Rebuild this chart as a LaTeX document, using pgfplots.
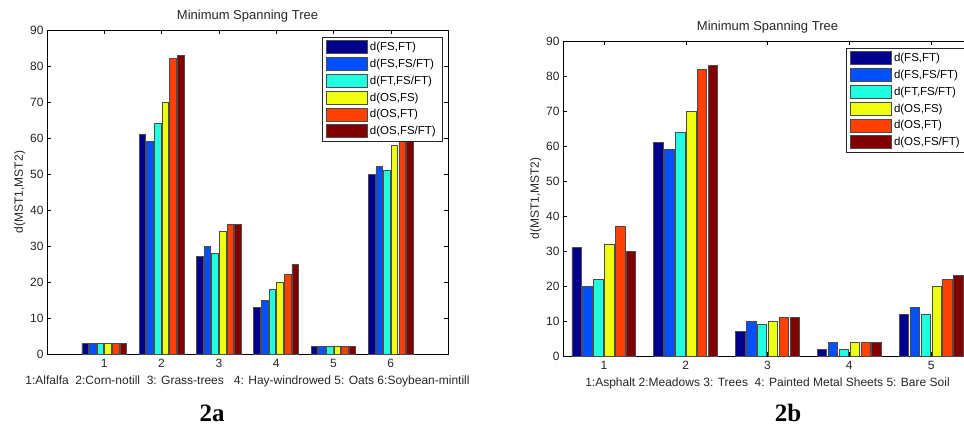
\documentclass[border=0pt]{standalone}
\usepackage{fontspec}
\setmainfont{Liberation Sans}
\newfontfamily\capfont{Liberation Serif}
\usepackage{pgfplots}
\pgfplotsset{compat=1.18}

\definecolor{c1}{RGB}{0,0,140}
\definecolor{c2}{RGB}{0,80,255}
\definecolor{c3}{RGB}{32,255,224}
\definecolor{c4}{RGB}{238,255,16}
\definecolor{c5}{RGB}{255,64,0}
\definecolor{c6}{RGB}{128,0,0}

\pgfplotsset{
  mst/.style={
    scale only axis,
    anchor=south west,
    ybar,
    bar width=0.115,
    ymin=0, ymax=90,
    ytick={0,10,...,90},
    xtick={1,...,6},
    tick align=inside,
    major tick length=4pt,
    tick style={black, thin},
    axis line style={black, thin},
    /pgf/number format/assume math mode=true,
    ticklabel style={font=\fontsize{12}{14}\selectfont, text=black!85},
    xticklabel style={yshift=-2pt},
    label style={font=\fontsize{12}{14}\selectfont, text=black!85},
    title style={font=\fontsize{13}{15}\selectfont, text=black!85, yshift=-2pt},
    title={Minimum Spanning Tree},
    ylabel={d(MST1,MST2)},
    every axis plot/.append style={draw=black!70, line width=0.7pt},
    legend cell align=left,
    legend image code/.code={\draw[##1] (0pt,-6.5pt) rectangle (41pt,6.5pt);},
    legend style={at={(1,1)}, anchor=north east, xshift=-6pt, yshift=-7pt,
      font=\fontsize{11.5}{13}\selectfont, draw=black!85, fill=white,
      row sep=3pt, inner xsep=4pt, inner ysep=3pt},
  },
}

\begin{document}
\begin{tikzpicture}[x=1pt,y=1pt]
\path[use as bounding box] (0,0) rectangle (964,426);

% 2a
\begin{axis}[mst, at={(47pt,72pt)}, width=401pt, height=324pt,
  xmin=0, xmax=7,
  xlabel={1:Alfalfa\ \ 2:Corn-notill\ \ 3: Grass-trees\ \ \ 4: Hay-windrowed 5: Oats 6:Soybean-mintill},
  xlabel style={yshift=-1pt},
  ylabel style={yshift=-2pt}]
\addplot[fill=c1, bar shift=-0.333] coordinates {(1,3) (2,61) (3,27) (4,13) (5,2) (6,50)};
\addplot[fill=c2, bar shift=-0.2]   coordinates {(1,3) (2,59) (3,30) (4,15) (5,2) (6,52)};
\addplot[fill=c3, bar shift=-0.067] coordinates {(1,3) (2,64) (3,28) (4,18) (5,2) (6,51)};
\addplot[fill=c4, bar shift=0.067]  coordinates {(1,3) (2,70) (3,34) (4,20) (5,2) (6,58)};
\addplot[fill=c5, bar shift=0.2]    coordinates {(1,3) (2,82) (3,36) (4,22) (5,2) (6,61)};
\addplot[fill=c6, bar shift=0.333]  coordinates {(1,3) (2,83) (3,36) (4,25) (5,2) (6,62)};
\legend{{d(FS,FT)},{d(FS,FS/FT)},{d(FT,FS/FT)},{d(OS,FS)},{d(OS,FT)},{d(OS,FS/FT)}}
\end{axis}

% 2b
\begin{axis}[mst, at={(563pt,70pt)}, width=409pt, height=315pt,
  xmin=0.5, xmax=5.5, xtick={1,...,5},
  xlabel={1:Asphalt 2:Meadows 3: Trees\ \ 4: Painted Metal Sheets 5: Bare Soil},
  xlabel style={yshift=-1pt},
  ylabel style={yshift=-2pt}]
\addplot[fill=c1, bar shift=-0.333] coordinates {(1,31) (2,61) (3,7)  (4,2) (5,12)};
\addplot[fill=c2, bar shift=-0.2]   coordinates {(1,20) (2,59) (3,10) (4,4) (5,14)};
\addplot[fill=c3, bar shift=-0.067] coordinates {(1,22) (2,64) (3,9)  (4,2) (5,12)};
\addplot[fill=c4, bar shift=0.067]  coordinates {(1,32) (2,70) (3,10) (4,4) (5,20)};
\addplot[fill=c5, bar shift=0.2]    coordinates {(1,37) (2,82) (3,11) (4,4) (5,22)};
\addplot[fill=c6, bar shift=0.333]  coordinates {(1,30) (2,83) (3,11) (4,4) (5,23)};
\legend{{d(FS,FT)},{d(FS,FS/FT)},{d(FT,FS/FT)},{d(OS,FS)},{d(OS,FT)},{d(OS,FS/FT)}}
\end{axis}

\node[font=\capfont\bfseries\fontsize{25}{28}\selectfont] at (212,13) {2a};
\node[font=\capfont\bfseries\fontsize{25}{28}\selectfont] at (788,13) {2b};
\end{tikzpicture}
\end{document}
